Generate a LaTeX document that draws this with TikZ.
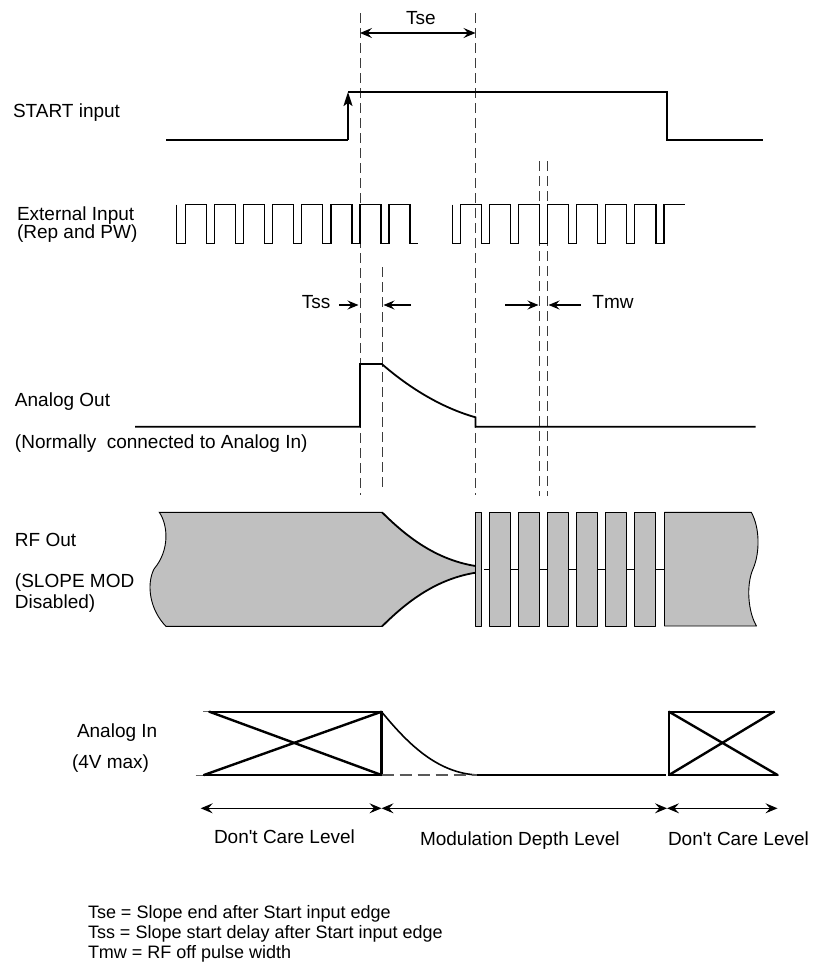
\documentclass[tikz,border=0pt]{standalone}
\usepackage{fontspec}
\setmainfont{Liberation Sans}
\usetikzlibrary{arrows.meta}
\definecolor{rfgray}{RGB}{192,192,192}
\definecolor{guidegray}{RGB}{60,60,60}
\begin{document}
\begin{tikzpicture}[x=1pt,y=-1pt,
  lbl/.style={font=\fontsize{19}{22}\selectfont, anchor=base west, inner sep=0pt, outer sep=0pt},
  note/.style={font=\fontsize{18}{21}\selectfont, anchor=base west, inner sep=0pt, outer sep=0pt},
  ctr/.style={font=\fontsize{19}{22}\selectfont, anchor=base, inner sep=0pt, outer sep=0pt},
  sig/.style={line width=1.8pt, line join=miter},
  pulses/.style={line width=1.3pt, line join=miter},
  guide/.style={line width=0.9pt, draw=guidegray, dash pattern=on 10pt off 5pt},
  dimarrow/.style={line width=1.2pt, {Stealth[length=12pt,width=10pt,inset=4.5pt]}-{Stealth[length=12pt,width=10pt,inset=4.5pt]}},
  tickarrow/.style={line width=1.2pt, -{Stealth[length=11pt,width=9pt,inset=4pt]}},
  rfbody/.style={fill=rfgray, draw=black, line width=0.9pt, line join=round},
  envelope/.style={line width=1.8pt},
  boxline/.style={line width=2.4pt, line cap=round},
]
\useasboundingbox (0,0) rectangle (814,970);
\fill[white] (0,0) rectangle (814,970);

% ---------- dashed guide lines ----------
\coordinate (gA0) at (360,13);   \coordinate (gA1) at (360,495);
\coordinate (gB0) at (475.5,13); \coordinate (gB1) at (475.5,495);
\coordinate (gC0) at (382,267);  \coordinate (gC1) at (382,490);
\coordinate (gD0) at (539.5,161); \coordinate (gD1) at (539.5,496);
\coordinate (gE0) at (547.5,161); \coordinate (gE1) at (547.5,496);
\draw[guide] (gA0) -- (gA1);
\draw[guide] (gB0) -- (gB1);
\draw[guide] (gC0) -- (gC1);
\draw[guide] (gD0) -- (gD1);
\draw[guide] (gE0) -- (gE1);

% ---------- Tse ----------
\coordinate (tseL) at (360,33);
\coordinate (tseR) at (475.5,33);
\draw[dimarrow] (tseL) -- (tseR);
\node[ctr] (tse) at (421,24) {Tse};

% ---------- labels ----------
\node[lbl] (lstart) at (13,117) {START input};
\node[lbl] (lext1) at (17,220) {External Input};
\node[lbl] (lext2) at (17,238) {(Rep and PW)};
\node[lbl] (laout1) at (15,406) {Analog Out};
\node[lbl] (laout2) at (15,448) {(Normally\ \ connected to Analog In)};
\node[lbl] (lrf1) at (15,546) {RF Out};
\node[lbl] (lrf2) at (15,587) {(SLOPE MOD};
\node[lbl] (lrf3) at (15,608) {Disabled)};
\node[lbl] (lain1) at (77,737) {Analog In};
\node[lbl] (lain2) at (72,768) {(4V max)};

% ---------- START input ----------
\coordinate (st0) at (166,140);
\coordinate (st1) at (348,140);
\coordinate (st2) at (348,92);
\draw[sig] (st0) -- (st1);
\draw[sig, -{Stealth[length=14pt,width=9pt,inset=3pt]}] (st1) -- (st2);
\draw[sig] (st2) -- (667,92) -- (667,140) -- (763,140);

% ---------- External input pulses ----------
\draw[pulses] (176.7,204.5) -- (176.7,243.5)
  foreach \k in {0,...,7} {
    -- ({185.4+29.1*\k},243.5) -- ({185.4+29.1*\k},204.5)
    -- ({206.4+29.1*\k},204.5) -- ({206.4+29.1*\k},243.5)
  } -- (418,243.5);
\draw[pulses] (452.2,204.5) -- (452.2,243.5)
  foreach \k in {0,...,6} {
    -- ({460.2+29.1*\k},243.5) -- ({460.2+29.1*\k},204.5)
    -- ({481.3+29.1*\k},204.5) -- ({481.3+29.1*\k},243.5)
  } -- (663.9,243.5) -- (663.9,204.5) -- (685,204.5);

% ---------- Tss / Tmw ----------
\coordinate (tssL0) at (339,305);  \coordinate (tssL1) at (358.5,305);
\coordinate (tssR0) at (411,305);  \coordinate (tssR1) at (383.5,305);
\draw[tickarrow] (tssL0) -- (tssL1);
\draw[tickarrow] (tssR0) -- (tssR1);
\node[ctr] (tss) at (316,308) {Tss};
\coordinate (tmwL0) at (505,305);  \coordinate (tmwL1) at (538.5,305);
\coordinate (tmwR0) at (581,305);  \coordinate (tmwR1) at (548.5,305);
\draw[tickarrow] (tmwL0) -- (tmwL1);
\draw[tickarrow] (tmwR0) -- (tmwR1);
\node[ctr] (tmw) at (613,308) {Tmw};

% ---------- Analog Out ----------
\draw[sig] (135,426.7) -- (360,426.7) -- (360,364) -- (381.8,364)
  .. controls (398,378) and (432,405) .. (475.5,417.3)
  -- (475.5,426.7) -- (755.5,426.7);

% ---------- RF Out ----------
\fill[rfgray] (159.3,512.3) -- (382,512.3)
  .. controls (402,532) and (432,559) .. (475.5,566)
  -- (475.5,572.7)
  .. controls (432,579.7) and (402,606.7) .. (382,626.4)
  -- (166,626.4)
  .. controls (150,610) and (146,585) .. (154,569)
  .. controls (170,550) and (168,525) .. (159.3,512.3) -- cycle;
\draw[line width=0.9pt] (382,512.3) -- (159.3,512.3)
  .. controls (168,525) and (170,550) .. (154,569)
  .. controls (146,585) and (150,610) .. (166,626.4) -- (382,626.4);
\draw[envelope] (382,512.3) .. controls (402,532) and (432,559) .. (475.5,566);
\draw[envelope] (382,626.4) .. controls (402,606.7) and (432,579.7) .. (475.5,572.7);
\coordinate (rfc0) at (484,569);
\coordinate (rfc1) at (664,569);
\draw[line width=0.9pt] (rfc0) -- (rfc1);
\draw[rfbody] (475.5,512.3) rectangle (481.5,626);
\foreach \k in {1,...,6} {
  \draw[rfbody] ({460.2+29.1*\k},512.3) rectangle ({481.3+29.1*\k},626);
}
\draw[rfbody] (664.5,512.3) -- (751.3,512.3)
  .. controls (760,528) and (760,553) .. (753,569)
  .. controls (746,585) and (748,612) .. (756.5,626)
  -- (664.5,626) -- cycle;

% ---------- Analog In ----------
\draw[line width=1pt, black!60] (203,711.7) -- (209.4,711.7);
\draw[line width=1pt, black!60] (195.5,775) -- (204,775);
\draw[boxline] (209.4,711.7) -- (381.5,711.7) -- (381.5,775) -- (204,775);
\draw[boxline] (209.4,711.7) -- (381.5,775);
\draw[boxline] (204,775) -- (381.5,711.7);
\draw[line width=1.6pt] (381.5,711.7) .. controls (405,740) and (435,773) .. (477.4,775);
\draw[line width=1.4pt, black!65, dash pattern=on 12pt off 6pt] (381.5,775) -- (477.4,775);
\draw[line width=2pt] (477.4,775) -- (666,775);
\draw[boxline] (774,711.7) -- (669,711.7) -- (669,775) -- (777.5,775);
\draw[boxline] (669,711.7) -- (777.5,775);
\draw[boxline] (669,775) -- (774,711.7);

% ---------- level arrows ----------
\coordinate (lv0) at (200.7,808.3);
\coordinate (lv1) at (381.5,808.3);
\coordinate (lv2) at (667,808.3);
\coordinate (lv3) at (777.5,808.3);
\draw[dimarrow] (lv0) -- (lv1);
\draw[dimarrow] (lv1) -- (lv2);
\draw[dimarrow] (lv2) -- (lv3);
\node[lbl] (dc1) at (214,843) {Don\textquotesingle t Care Level};
\node[lbl] (mdl) at (420,845) {Modulation Depth Level};
\node[lbl] (dc2) at (668,845) {Don\textquotesingle t Care Level};

% ---------- footnotes ----------
\node[note] (n1) at (88,918) {Tse = Slope end after Start input edge};
\node[note] (n2) at (88,938) {Tss = Slope start delay after Start input edge};
\node[note] (n3) at (88,958) {Tmw = RF off pulse width};
\end{tikzpicture}
\end{document}
